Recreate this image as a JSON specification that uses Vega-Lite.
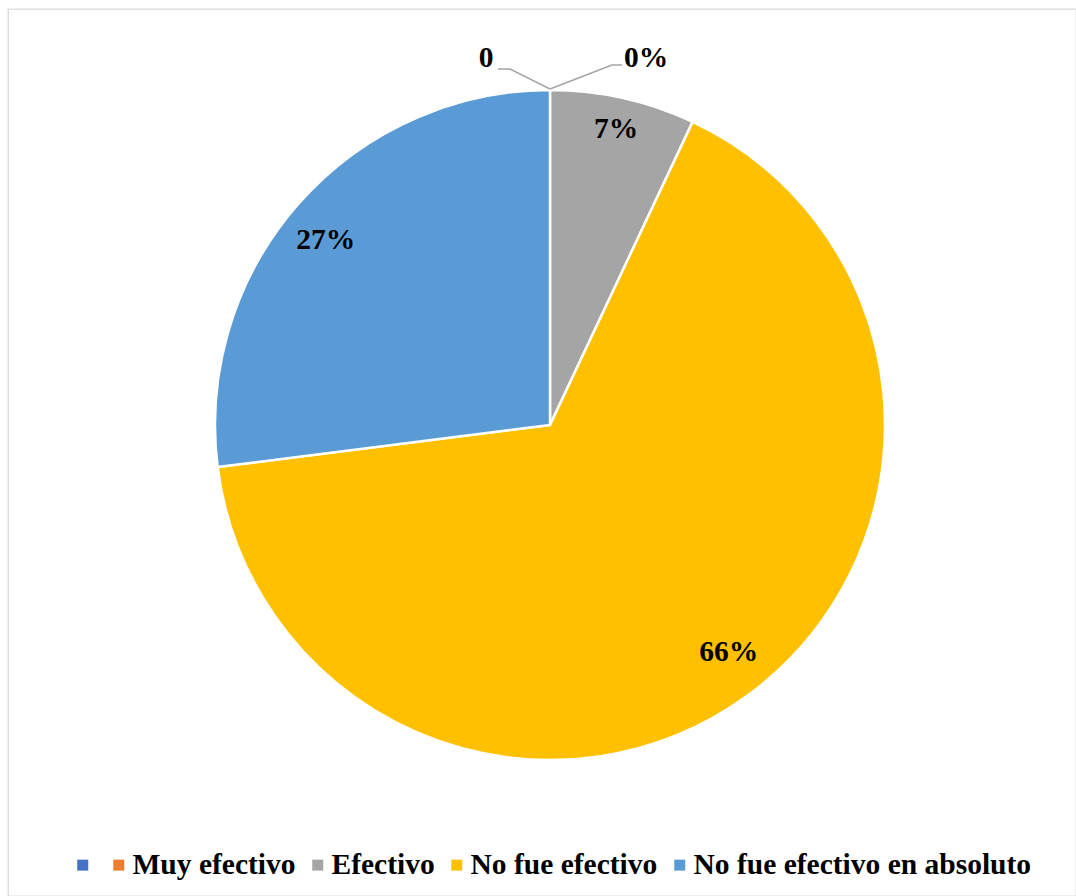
{
  "$schema": "https://vega.github.io/schema/vega-lite/v6.json",
  "width": 1068,
  "height": 887,
  "autosize": {"type": "none"},
  "padding": {"left": 8, "top": 9, "right": 0, "bottom": 0},
  "background": "white",
  "config": {"view": {"stroke": "#d9d9d9", "strokeWidth": 1.3}, "font": "Liberation Serif"},
  "datasets": {
    "respuestas": [
      {"categoria": "", "valor": 0, "etiqueta": "0", "orden": 1},
      {"categoria": "Muy efectivo", "valor": 0, "etiqueta": "0%", "orden": 2},
      {"categoria": "Efectivo", "valor": 7, "etiqueta": "7%", "orden": 3},
      {"categoria": "No fue efectivo", "valor": 66, "etiqueta": "66%", "orden": 4},
      {"categoria": "No fue efectivo en absoluto", "valor": 27, "etiqueta": "27%", "orden": 5}
    ],
    "guias": [
      {"linea": "a", "paso": 1, "gx": 0, "gy": 336},
      {"linea": "a", "paso": 2, "gx": -40, "gy": 356},
      {"linea": "a", "paso": 3, "gx": -52, "gy": 356},
      {"linea": "b", "paso": 1, "gx": 0, "gy": 336},
      {"linea": "b", "paso": 2, "gx": 62, "gy": 360},
      {"linea": "b", "paso": 3, "gx": 72, "gy": 360}
    ]
  },
  "layer": [
    {
      "data": {"name": "respuestas"},
      "mark": {"type": "arc", "outerRadius": 335, "stroke": "white", "strokeWidth": 2.5},
      "encoding": {
        "x": {"datum": 0, "type": "quantitative", "scale": {"domain": [-542, 526], "nice": false, "zero": false}, "axis": null},
        "y": {"datum": 0, "type": "quantitative", "scale": {"domain": [-471, 416], "nice": false, "zero": false}, "axis": null},
        "theta": {"field": "valor", "type": "quantitative", "stack": true},
        "order": {"field": "orden", "type": "quantitative"},
        "color": {
          "field": "categoria",
          "type": "nominal",
          "scale": {
            "domain": ["", "Muy efectivo", "Efectivo", "No fue efectivo", "No fue efectivo en absoluto"],
            "range": ["#4472C4", "#ED7D31", "#A5A5A5", "#FFC000", "#5B9BD5"]
          },
          "legend": {
            "orient": "none",
            "legendX": 60,
            "legendY": 841,
            "direction": "horizontal",
            "title": null,
            "symbolType": "square",
            "symbolSize": 121,
            "symbolStrokeWidth": 0,
            "symbolOpacity": 1,
            "labelFont": "Liberation Serif",
            "labelFontWeight": "bold",
            "labelFontSize": 29.5,
            "labelColor": "black",
            "labelOffset": -1,
            "columnPadding": 7,
            "padding": 0,
            "labelLimit": 600
          }
        }
      }
    },
    {
      "data": {"name": "respuestas"},
      "mark": {"type": "text", "radius": 303, "font": "Liberation Serif", "fontWeight": "bold", "fontSize": 29.5, "color": "black", "baseline": "middle", "align": "center"},
      "encoding": {
        "x": {"datum": 0, "type": "quantitative", "scale": {"domain": [-542, 526], "nice": false, "zero": false}, "axis": null},
        "y": {"datum": 0, "type": "quantitative", "scale": {"domain": [-471, 416], "nice": false, "zero": false}, "axis": null},
        "theta": {"field": "valor", "type": "quantitative", "stack": true},
        "order": {"field": "orden", "type": "quantitative"},
        "text": {"condition": {"test": "datum.orden == 3", "field": "etiqueta"}, "value": ""}
      }
    },
    {
      "data": {"name": "respuestas"},
      "mark": {"type": "text", "radius": 289, "dx": 9, "dy": -7, "font": "Liberation Serif", "fontWeight": "bold", "fontSize": 29.5, "color": "black", "baseline": "middle", "align": "center"},
      "encoding": {
        "x": {"datum": 0, "type": "quantitative", "scale": {"domain": [-542, 526], "nice": false, "zero": false}, "axis": null},
        "y": {"datum": 0, "type": "quantitative", "scale": {"domain": [-471, 416], "nice": false, "zero": false}, "axis": null},
        "theta": {"field": "valor", "type": "quantitative", "stack": true},
        "order": {"field": "orden", "type": "quantitative"},
        "text": {"condition": {"test": "datum.orden == 4", "field": "etiqueta"}, "value": ""}
      }
    },
    {
      "data": {"name": "respuestas"},
      "mark": {"type": "text", "radius": 291, "dx": -6, "dy": 7, "font": "Liberation Serif", "fontWeight": "bold", "fontSize": 29.5, "color": "black", "baseline": "middle", "align": "center"},
      "encoding": {
        "x": {"datum": 0, "type": "quantitative", "scale": {"domain": [-542, 526], "nice": false, "zero": false}, "axis": null},
        "y": {"datum": 0, "type": "quantitative", "scale": {"domain": [-471, 416], "nice": false, "zero": false}, "axis": null},
        "theta": {"field": "valor", "type": "quantitative", "stack": true},
        "order": {"field": "orden", "type": "quantitative"},
        "text": {"condition": {"test": "datum.orden == 5", "field": "etiqueta"}, "value": ""}
      }
    },
    {
      "data": {"name": "respuestas"},
      "mark": {"type": "text", "radius": 367, "dx": -64, "font": "Liberation Serif", "fontWeight": "bold", "fontSize": 29.5, "color": "black", "baseline": "middle", "align": "center"},
      "encoding": {
        "x": {"datum": 0, "type": "quantitative", "scale": {"domain": [-542, 526], "nice": false, "zero": false}, "axis": null},
        "y": {"datum": 0, "type": "quantitative", "scale": {"domain": [-471, 416], "nice": false, "zero": false}, "axis": null},
        "theta": {"field": "valor", "type": "quantitative", "stack": true},
        "order": {"field": "orden", "type": "quantitative"},
        "text": {"condition": {"test": "datum.orden == 1", "field": "etiqueta"}, "value": ""}
      }
    },
    {
      "data": {"name": "respuestas"},
      "mark": {"type": "text", "radius": 367, "dx": 96, "font": "Liberation Serif", "fontWeight": "bold", "fontSize": 29.5, "color": "black", "baseline": "middle", "align": "center"},
      "encoding": {
        "x": {"datum": 0, "type": "quantitative", "scale": {"domain": [-542, 526], "nice": false, "zero": false}, "axis": null},
        "y": {"datum": 0, "type": "quantitative", "scale": {"domain": [-471, 416], "nice": false, "zero": false}, "axis": null},
        "theta": {"field": "valor", "type": "quantitative", "stack": true},
        "order": {"field": "orden", "type": "quantitative"},
        "text": {"condition": {"test": "datum.orden == 2", "field": "etiqueta"}, "value": ""}
      }
    },
    {
      "data": {"name": "guias"},
      "mark": {"type": "line", "color": "#A5A5A5", "strokeWidth": 1.5},
      "encoding": {
        "x": {"field": "gx", "type": "quantitative", "scale": {"domain": [-542, 526], "nice": false, "zero": false}, "axis": null},
        "y": {"field": "gy", "type": "quantitative", "scale": {"domain": [-471, 416], "nice": false, "zero": false}, "axis": null},
        "detail": {"field": "linea", "type": "nominal"},
        "order": {"field": "paso", "type": "quantitative"}
      }
    }
  ]
}
